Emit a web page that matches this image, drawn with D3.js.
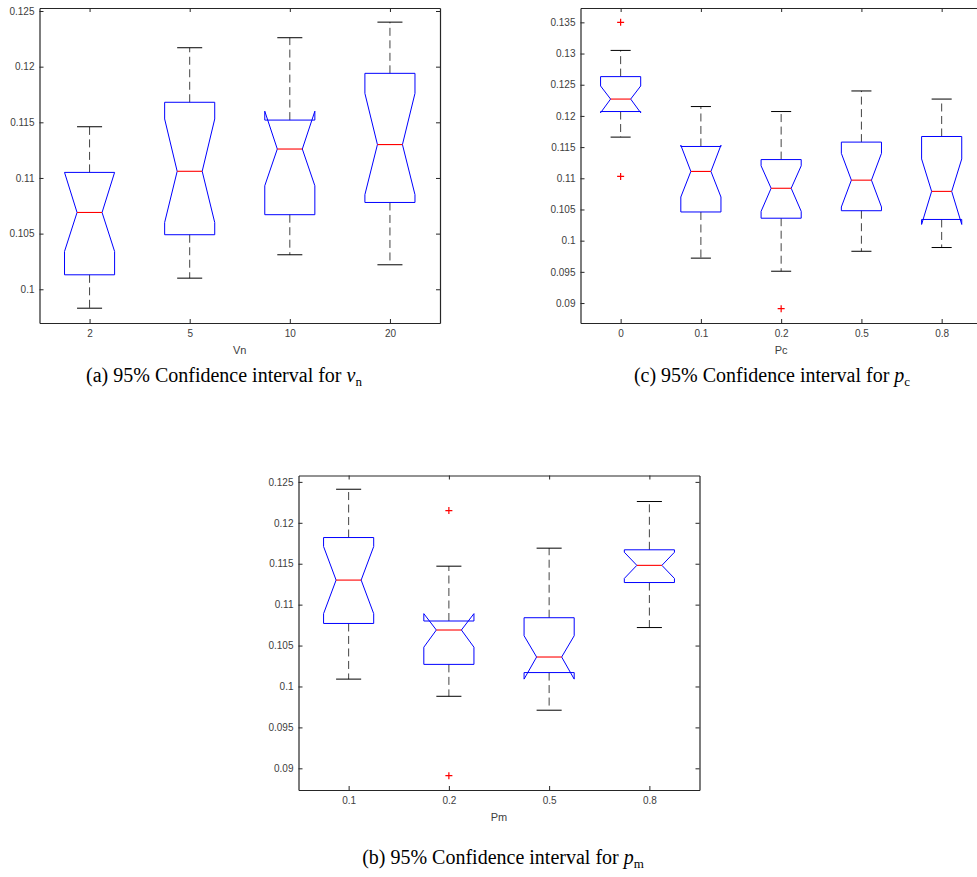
<!DOCTYPE html>
<html><head><meta charset="utf-8">
<script src="https://cdn.jsdelivr.net/npm/d3@7"></script>
<style>body{margin:0;background:#fff}svg{display:block}</style>
</head><body>
<svg id="chart" width="977" height="877"></svg>
<script>
// ---------- Panel (a): Vn ----------
const vnCategories = ["2", "5", "10", "20"];
const vnWhiskerHi = [0.1146, 0.1217, 0.1226, 0.1240];
const vnQ3        = [0.1105, 0.1168, 0.1152, 0.1194];
const vnMedian    = [0.1069, 0.1106, 0.1126, 0.1130];
const vnQ1        = [0.1013, 0.1049, 0.1067, 0.1078];
const vnWhiskerLo = [0.0983, 0.1010, 0.1031, 0.1022];
const vnNotchHi   = [0.1105, 0.1153, 0.1160, 0.1176];
const vnNotchLo   = [0.1034, 0.1060, 0.1093, 0.1085];
const vnOutliers  = [[], [], [], []];
const vnYTicks = [0.1, 0.105, 0.11, 0.115, 0.12, 0.125];

// ---------- Panel (c): Pc ----------
const pcCategories = ["0", "0.1", "0.2", "0.5", "0.8"];
const pcWhiskerHi = [0.1305, 0.1215, 0.1207, 0.1240, 0.1227];
const pcQ3        = [0.1263, 0.1151, 0.1130, 0.1158, 0.1167];
const pcMedian    = [0.1227, 0.1111, 0.1084, 0.1097, 0.1079];
const pcQ1        = [0.1207, 0.1046, 0.1036, 0.1048, 0.1034];
const pcWhiskerLo = [0.1166, 0.0972, 0.0951, 0.0983, 0.0989];
const pcNotchHi   = [0.1248, 0.1153, 0.1120, 0.1140, 0.1131];
const pcNotchLo   = [0.1205, 0.1070, 0.1047, 0.1054, 0.1026];
const pcOutliers  = [[0.1350, 0.1103], [], [0.0891], [], []];
const pcYTicks = [0.09, 0.095, 0.1, 0.105, 0.11, 0.115, 0.12, 0.125, 0.13, 0.135];

// ---------- Panel (b): Pm ----------
const pmCategories = ["0.1", "0.2", "0.5", "0.8"];
const pmWhiskerHi = [0.1241, 0.1147, 0.1169, 0.1226];
const pmQ3        = [0.1182, 0.1080, 0.1084, 0.1167];
const pmMedian    = [0.1130, 0.1069, 0.1036, 0.1148];
const pmQ1        = [0.1077, 0.1027, 0.1017, 0.1127];
const pmWhiskerLo = [0.1009, 0.0988, 0.0971, 0.1072];
const pmNotchHi   = [0.1171, 0.1089, 0.1062, 0.1164];
const pmNotchLo   = [0.1089, 0.1048, 0.1009, 0.1132];
const pmOutliers  = [[], [0.1215, 0.0891], [], []];
const pmYTicks = [0.09, 0.095, 0.1, 0.105, 0.11, 0.115, 0.12, 0.125];

const svg = d3.select("#chart");
svg.append("rect").attr("width", 977).attr("height", 877).attr("fill", "#fff");

function panel(cfg) {
  const n = cfg.categories.length;
  const x = d3.scaleLinear().domain([0.5, n + 0.5]).range([cfg.left, cfg.right]);
  const y = d3.scaleLinear().domain(cfg.yDomain).range([cfg.bottom, cfg.top]);
  const g = svg.append("g");
  const idx = d3.range(n);
  const catX = i => x(i + 1);
  const axisColor = "#262626";
  const textColor = "#404040";

  const w = 0.25, cw = 0.125;
  idx.forEach(i => {
    const c = i + 1;
    g.append("line").attr("x1", catX(i)).attr("x2", catX(i))
      .attr("y1", y(cfg.q3[i])).attr("y2", y(cfg.whiskerHi[i]))
      .attr("stroke", "#444").attr("stroke-width", 1).attr("stroke-dasharray", "8,4.5");
    g.append("line").attr("x1", catX(i)).attr("x2", catX(i))
      .attr("y1", y(cfg.q1[i])).attr("y2", y(cfg.whiskerLo[i]))
      .attr("stroke", "#444").attr("stroke-width", 1).attr("stroke-dasharray", "8,4.5");
    [cfg.whiskerHi[i], cfg.whiskerLo[i]].forEach(v => {
      g.append("line").attr("x1", x(c - cw)).attr("x2", x(c + cw))
        .attr("y1", y(v)).attr("y2", y(v))
        .attr("stroke", "#000").attr("stroke-width", 1);
    });
    const pts = [
      [c - w, cfg.q1[i]], [c - w, cfg.notchLo[i]], [c - w / 2, cfg.median[i]],
      [c - w, cfg.notchHi[i]], [c - w, cfg.q3[i]], [c + w, cfg.q3[i]],
      [c + w, cfg.notchHi[i]], [c + w / 2, cfg.median[i]], [c + w, cfg.notchLo[i]],
      [c + w, cfg.q1[i]], [c - w, cfg.q1[i]]
    ];
    g.append("path")
      .attr("d", d3.line().x(p => x(p[0])).y(p => y(p[1]))(pts))
      .attr("fill", "none").attr("stroke", "#0000ff").attr("stroke-width", 1);
    g.append("line").attr("x1", x(c - w / 2)).attr("x2", x(c + w / 2))
      .attr("y1", y(cfg.median[i])).attr("y2", y(cfg.median[i]))
      .attr("stroke", "#ff0000").attr("stroke-width", 1.1);
    cfg.outliers[i].forEach(v => {
      const px = catX(i), py = y(v);
      g.append("path")
        .attr("d", `M${px - 3.5},${py}H${px + 3.5}M${px},${py - 3.5}V${py + 3.5}`)
        .attr("stroke", "#ff0000").attr("stroke-width", 1.2).attr("fill", "none");
    });
  });

  const tickVals = idx.map(i => i + 1);
  const ax = [
    g.append("g").attr("transform", `translate(0,${cfg.bottom})`)
      .call(d3.axisBottom(x).tickValues(tickVals).tickFormat(d => cfg.categories[d - 1])
        .tickSizeInner(-4).tickSizeOuter(0).tickPadding(7)),
    g.append("g").attr("transform", `translate(0,${cfg.top})`)
      .call(d3.axisTop(x).tickValues(tickVals).tickFormat("").tickSizeInner(-4).tickSizeOuter(0)),
    g.append("g").attr("transform", `translate(${cfg.left},0)`)
      .call(d3.axisLeft(y).tickValues(cfg.yTicks).tickFormat(d => String(+d.toFixed(4)))
        .tickSizeInner(-4).tickSizeOuter(0).tickPadding(5)),
    g.append("g").attr("transform", `translate(${cfg.right},0)`)
      .call(d3.axisRight(y).tickValues(cfg.yTicks).tickFormat("").tickSizeInner(-4).tickSizeOuter(0))
  ];
  ax.forEach(a => {
    a.selectAll(".domain").attr("stroke", axisColor).attr("stroke-width", 1.2);
    a.selectAll(".tick line").attr("stroke", axisColor).attr("stroke-width", 1);
    a.selectAll("text").attr("font-family", "'Liberation Sans', Arial, sans-serif")
      .attr("font-size", 10).attr("fill", textColor);
  });

  g.append("text").attr("x", (cfg.left + cfg.right) / 2).attr("y", cfg.bottom + 31)
    .attr("text-anchor", "middle")
    .attr("font-family", "'Liberation Sans', Arial, sans-serif")
    .attr("font-size", 11).attr("fill", textColor).text(cfg.xLabel);

  const cap = svg.append("text").attr("x", cfg.capX).attr("y", cfg.capY)
    .attr("text-anchor", "middle")
    .attr("font-family", "'Liberation Serif', 'Times New Roman', serif")
    .attr("font-size", 20).attr("fill", "#000");
  cap.append("tspan").text(cfg.capText);
  cap.append("tspan").attr("font-style", "italic").text(cfg.capVar);
  cap.append("tspan").attr("font-size", 13).attr("dy", 4).text(cfg.capSub);
}

panel({
  categories: vnCategories, whiskerHi: vnWhiskerHi, q3: vnQ3, median: vnMedian, q1: vnQ1,
  whiskerLo: vnWhiskerLo, notchHi: vnNotchHi, notchLo: vnNotchLo, outliers: vnOutliers,
  yTicks: vnYTicks, yDomain: [0.09697, 0.12527],
  left: 39.5, right: 440, top: 8, bottom: 323, xLabel: "Vn",
  capX: 224, capY: 382, capText: "(a) 95% Confidence interval for ", capVar: "v", capSub: "n"
});
panel({
  categories: pcCategories, whiskerHi: pcWhiskerHi, q3: pcQ3, median: pcMedian, q1: pcQ1,
  whiskerLo: pcWhiskerLo, notchHi: pcNotchHi, notchLo: pcNotchLo, outliers: pcOutliers,
  yTicks: pcYTicks, yDomain: [0.0868, 0.1373],
  left: 580.5, right: 981.8, top: 8, bottom: 323, xLabel: "Pc",
  capX: 772, capY: 382, capText: "(c) 95% Confidence interval for ", capVar: "p", capSub: "c"
});
panel({
  categories: pmCategories, whiskerHi: pmWhiskerHi, q3: pmQ3, median: pmMedian, q1: pmQ1,
  whiskerLo: pmWhiskerLo, notchHi: pmNotchHi, notchLo: pmNotchLo, outliers: pmOutliers,
  yTicks: pmYTicks, yDomain: [0.08735, 0.12578],
  left: 298.5, right: 699.5, top: 475.5, bottom: 790, xLabel: "Pm",
  capX: 503, capY: 864, capText: "(b) 95% Confidence interval for ", capVar: "p", capSub: "m"
});
</script>
</body></html>
